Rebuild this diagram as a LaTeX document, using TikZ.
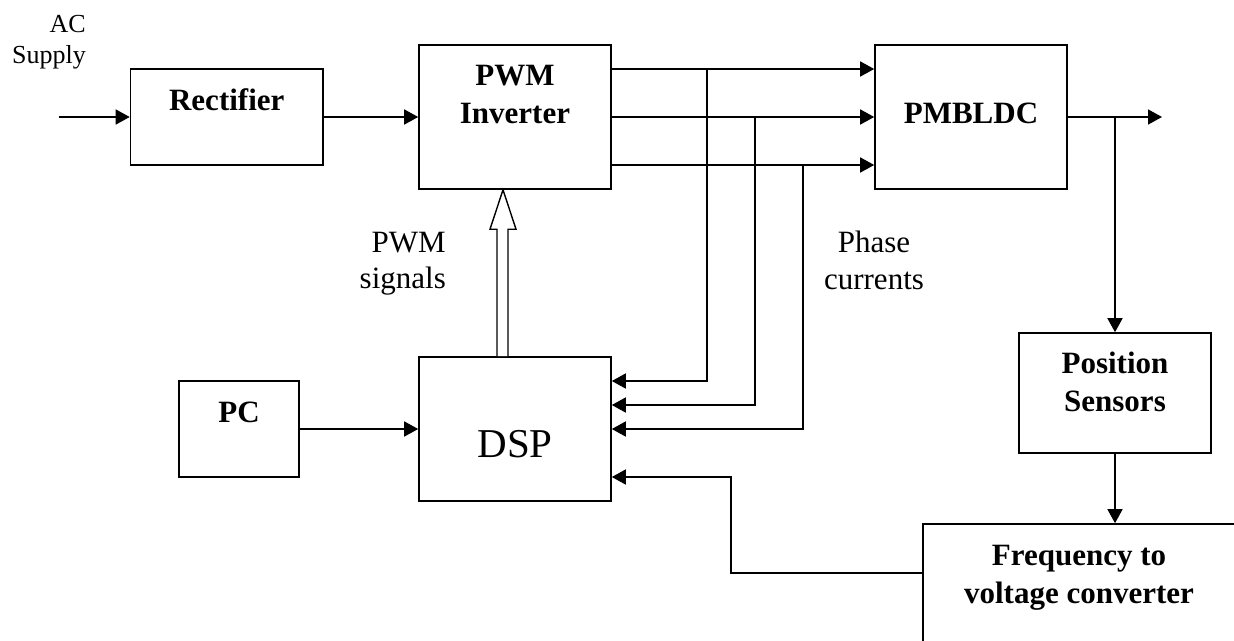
\documentclass[tikz,border=0pt]{standalone}
\usepackage{fontspec}
\setmainfont{Liberation Serif}
\usetikzlibrary{arrows.meta,calc}
\begin{document}
\begin{tikzpicture}[x=1pt,y=-1pt,
  box/.style={draw,line width=1.6pt,minimum width=192pt,minimum height=144pt,inner sep=0pt},
  arr/.style={line width=1.5pt,-{Triangle[length=14pt,width=15pt]}},
  bt/.style={font=\bfseries\fontsize{31}{36}\selectfont,anchor=base,inner sep=0pt},
  rt/.style={font=\fontsize{31}{36}\selectfont,inner sep=0pt}]
\clip (0,0) rectangle (1234,640);
\fill[white] (0,0) rectangle (1234,640);
% boxes
\node[box,minimum width=192.5pt,minimum height=96pt] (rect) at (226.75,117) {};
\node[box] (inv) at (515,117) {};
\node[box] (pmb) at (971,117) {};
\node[box] (dsp) at (515,429) {};
\node[box,minimum width=120pt,minimum height=96pt] (pc) at (239,429) {};
\node[box,minimum height=120pt] (pos) at (1115,393) {};
\node[box,minimum width=332pt,minimum height=136pt] (f2v) at (1089,592) {};
% texts
\node[rt,anchor=base east,font=\fontsize{26}{31}\selectfont] (ac1) at (86,32) {AC};
\node[rt,anchor=base east,font=\fontsize{26}{31}\selectfont] (ac2) at (86,63) {Supply};
\node[bt] (trect) at (226.75,110) {Rectifier};
\node[bt] (tinv1) at (515,85) {PWM};
\node[bt] (tinv2) at (515,123) {Inverter};
\node[bt] (tpmb) at (971,123) {PMBLDC};
\node[bt] (tpc) at (239,422) {PC};
\node[rt,anchor=base,font=\fontsize{41}{48}\selectfont] (tdsp) at (515,457) {DSP};
\node[bt] (tpos1) at (1115,373) {Position};
\node[bt] (tpos2) at (1115,411) {Sensors};
\node[bt] (tf1) at (1079,565) {Frequency to};
\node[bt] (tf2) at (1079,603) {voltage converter};
\node[rt,anchor=base east] (ps1) at (446,252) {PWM};
\node[rt,anchor=base east] (ps2) at (446,288) {signals};
\node[rt,anchor=base] (pc1) at (874,252) {Phase};
\node[rt,anchor=base] (pc2) at (874,289) {currents};
% coordinates
\coordinate (in) at (58.5,117);
\coordinate (t1) at (707,69);
\coordinate (t2) at (755,117);
\coordinate (t3) at (803,165);
\coordinate (y1) at (0,381);
\coordinate (y2) at (0,405);
\coordinate (y3) at (0,429);
\coordinate (t4) at (1115,117);
\coordinate (out) at (1162,117);
\coordinate (yfb) at (0,573);
\coordinate (k) at (731,477);
% connectors
\draw[arr] (in) -- (rect.west);
\draw[arr] (rect.east) -- (inv.west);
\draw[arr] (inv.east |- t1) -- (pmb.west |- t1);
\draw[arr] (inv.east |- t2) -- (pmb.west |- t2);
\draw[arr] (inv.east |- t3) -- (pmb.west |- t3);
\draw[arr] (t1) |- (dsp.east |- y1);
\draw[arr] (t2) |- (dsp.east |- y2);
\draw[arr] (t3) |- (dsp.east |- y3);
\draw[arr] (pmb.east) -- (out);
\draw[arr] (t4) -- (pos.north);
\draw[arr] (pos.south) -- (pos.south |- f2v.north);
\draw[arr] (f2v.west |- yfb) -| (k) -- (dsp.east |- k);
\draw[arr] (pc.east) -- (dsp.west);
% hollow PWM signal arrow
\draw[line width=1.4pt,fill=white,line join=miter]
  ($(dsp.north)+(-18,0)$) -- ($(dsp.north)+(-18,-127)$) -- ($(dsp.north)+(-25,-127)$)
  -- ($(inv.south)+(-12,0)$) -- ($(dsp.north)+(1,-127)$) -- ($(dsp.north)+(-7,-127)$)
  -- ($(dsp.north)+(-7,0)$);
\end{tikzpicture}
\end{document}
